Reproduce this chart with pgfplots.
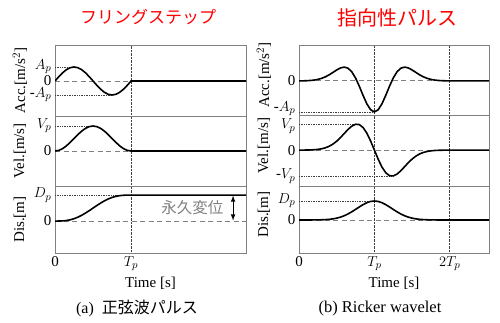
\documentclass[border=0pt]{standalone}
\usepackage{fontspec}
\setmainfont{Liberation Serif}
\newfontfamily\jp{Noto Sans CJK JP}
\usepackage{pgfplots}
\pgfplotsset{compat=1.18}
\usepackage{pgfplotstable}
\newcommand\fs{\fontsize{15}{18}\selectfont}

\pgfplotstableread{
t acc vel dis
0 0 0 0
0.05 0.309 0.0245 0.0008
0.10 0.588 0.0955 0.0064
0.15 0.809 0.2061 0.0212
0.20 0.951 0.3455 0.0486
0.25 1.000 0.5000 0.0908
0.30 0.951 0.6545 0.1486
0.35 0.809 0.7939 0.2212
0.40 0.588 0.9045 0.3064
0.45 0.309 0.9755 0.4008
0.50 0.000 1.0000 0.5000
0.55 -0.309 0.9755 0.5992
0.60 -0.588 0.9045 0.6936
0.65 -0.809 0.7939 0.7788
0.70 -0.951 0.6545 0.8514
0.75 -1.000 0.5000 0.9092
0.80 -0.951 0.3455 0.9514
0.85 -0.809 0.2061 0.9788
0.90 -0.588 0.0955 0.9936
0.95 -0.309 0.0245 0.9992
1.00 0 0 1
2.60 0 0 1
}\sinetab

\pgfplotstableread{
t acc vel dis
0.00 0.0015 0.0006 0.0001
0.05 0.0034 0.0015 0.0002
0.10 0.0072 0.0033 0.0005
0.15 0.0145 0.0070 0.0012
0.20 0.0275 0.0143 0.0025
0.25 0.0493 0.0277 0.0052
0.30 0.0833 0.0510 0.0102
0.35 0.1325 0.0890 0.0192
0.40 0.1974 0.1470 0.0344
0.45 0.2746 0.2310 0.0589
0.50 0.3544 0.3440 0.0963
0.55 0.4195 0.4830 0.1503
0.60 0.4463 0.6390 0.2237
0.65 0.4108 0.7940 0.3177
0.70 0.2950 0.9220 0.4307
0.75 0.0947 0.9940 0.5571
0.80 -0.1727 0.9820 0.6877
0.85 -0.4689 0.8670 0.8101
0.90 -0.7401 0.6500 0.9106
0.95 -0.9312 0.3487 0.9769
1.00 -1.0000 0.0000 1.0000
1.05 -0.9312 -0.3487 0.9769
1.10 -0.7401 -0.6500 0.9106
1.15 -0.4689 -0.8670 0.8101
1.20 -0.1727 -0.9820 0.6877
1.25 0.0947 -0.9940 0.5571
1.30 0.2950 -0.9220 0.4307
1.35 0.4108 -0.7940 0.3177
1.40 0.4463 -0.6390 0.2237
1.45 0.4195 -0.4830 0.1503
1.50 0.3544 -0.3440 0.0963
1.55 0.2746 -0.2310 0.0589
1.60 0.1974 -0.1470 0.0344
1.65 0.1325 -0.0890 0.0192
1.70 0.0833 -0.0510 0.0102
1.75 0.0493 -0.0277 0.0052
1.80 0.0275 -0.0143 0.0025
1.85 0.0145 -0.0070 0.0012
1.90 0.0072 -0.0033 0.0005
1.95 0.0034 -0.0015 0.0002
2.00 0.0015 -0.0006 0.0001
2.60 0 0 0
}\rickertab

\pgfplotsset{
 panel/.style={
  scale only axis, xmin=0,
  axis line style={draw=gray, line width=0.9pt},
  major tick length=0pt,
  xmajorgrids, grid style={densely dotted, black!75, line width=0.7pt},
  xticklabel style={font=\fs},
  yticklabel style={font=\fs},
  xlabel style={font=\fs},
  every axis y label/.style={at={(rel axis cs:0,0.5)}, xshift=-35pt, rotate=90, anchor=center, font=\fs},
 },
 nox/.style={xticklabel={\mbox{}}},
 curve/.style={black, line width=1.6pt},
 zero/.style={gray, dash pattern=on 5pt off 3.5pt, line width=0.9pt},
 guide/.style={black!75, densely dotted, line width=0.7pt},
}

\begin{document}
\begin{tikzpicture}
\path[use as bounding box] (0,0) rectangle (500pt,-322pt);

% ---------- left: sine pulse ----------
\begin{axis}[panel, nox, at={(55pt,-45pt)}, anchor=north west, width=191pt, height=71pt,
  xmax=2.51, ymin=-2.5, ymax=2.57, xtick={1},
  ytick={-1,0,1}, yticklabels={-$A_p$,0,$A_p$}, ylabel={Acc.[m/s$^2$]}]
\addplot[zero] coordinates {(0,0) (2.6,0)};
\addplot[guide] coordinates {(0,1) (0.25,1)};
\addplot[guide] coordinates {(0,-1) (0.75,-1)};
\addplot[curve] table[x=t,y=acc]{\sinetab};
\end{axis}

\begin{axis}[panel, nox, at={(55pt,-116pt)}, anchor=north west, width=191pt, height=70pt,
  xmax=2.51, ymin=-1.4, ymax=1.4, xtick={1},
  ytick={0,1}, yticklabels={0,$V_p$}, ylabel={Vel.[m/s]}]
\addplot[zero] coordinates {(0,0) (2.6,0)};
\addplot[guide] coordinates {(0,1) (0.5,1)};
\addplot[curve] table[x=t,y=vel]{\sinetab};
\end{axis}

\begin{axis}[panel, at={(55pt,-186pt)}, anchor=north west, width=191pt, height=67pt,
  xmax=2.51, ymin=-1.23, ymax=1.35, xtick={0,1}, xticklabels={0,$T_p$},
  ytick={0,1}, yticklabels={0,$D_p$}, ylabel={Dis.[m]}, xlabel={Time [s]}]
\addplot[zero] coordinates {(0,0) (2.6,0)};
\addplot[guide] coordinates {(0,1) (1,1)};
\addplot[curve] table[x=t,y=dis]{\sinetab};
\draw[<->, >=latex, line width=1.1pt] (axis cs:2.34,0.02) -- (axis cs:2.34,0.98);
\node[anchor=east, text=gray, font=\jp\fontsize{15.5}{18}\selectfont] at (axis cs:2.26,0.5) {永久変位};
\end{axis}

% ---------- right: Ricker wavelet ----------
\begin{axis}[panel, nox, at={(299pt,-45pt)}, anchor=north west, width=190pt, height=70pt,
  xmax=2.52, ymin=-1.1, ymax=1.16, xtick={1,2},
  ytick={0}, yticklabels={0},
  extra y ticks={-1}, extra y tick labels={-$A_p$},
  extra y tick style={yticklabel style={yshift=3.5pt}},
  ylabel={Acc.[m/s$^2$]},
  every axis y label/.append style={xshift=5pt}]
\addplot[zero] coordinates {(0,0) (2.6,0)};
\addplot[guide] coordinates {(0,-1) (1,-1)};
\addplot[curve] table[x=t,y=acc]{\rickertab};
\end{axis}

\begin{axis}[panel, nox, at={(299pt,-115pt)}, anchor=north west, width=190pt, height=71pt,
  xmax=2.52, ymin=-1.38, ymax=1.35, xtick={1,2},
  ytick={-1,0}, yticklabels={-$V_p$,0},
  extra y ticks={1}, extra y tick labels={$V_p$},
  extra y tick style={yticklabel style={yshift=-2pt}},
  ylabel={Vel.[m/s]},
  every axis y label/.append style={xshift=5pt}]
\addplot[zero] coordinates {(0,0) (2.6,0)};
\addplot[guide] coordinates {(0,1) (0.77,1)};
\addplot[guide] coordinates {(0,-1) (1.23,-1)};
\addplot[curve] table[x=t,y=vel]{\rickertab};
\end{axis}

\begin{axis}[panel, at={(299pt,-186pt)}, anchor=north west, width=190pt, height=67pt,
  xmax=2.52, ymin=-1.74, ymax=1.79, xtick={0,1,2}, xticklabels={0,$T_p$,$2T_p$},
  ytick={0,1}, yticklabels={0,$D_p$}, ylabel={Dis.[m]}, xlabel={Time [s]},
  every axis y label/.append style={xshift=5pt}]
\addplot[zero] coordinates {(0,0) (2.6,0)};
\addplot[guide] coordinates {(0,1) (1,1)};
\addplot[curve] table[x=t,y=dis]{\rickertab};
\end{axis}

% titles and captions
\node[text=red, font=\jp\fontsize{17}{20}\selectfont] at (148pt,-17pt) {フリングステップ};
\node[text=red, font=\jp\fontsize{20}{22}\selectfont] at (397pt,-18pt) {指向性パルス};
\node[font=\fontsize{16}{18}\selectfont] at (137pt,-308pt) {(a)\ \ {\jp 正弦波パルス}};
\node[font=\fontsize{16.5}{18}\selectfont] at (380pt,-309pt) {(b) Ricker wavelet};
\end{tikzpicture}
\end{document}
